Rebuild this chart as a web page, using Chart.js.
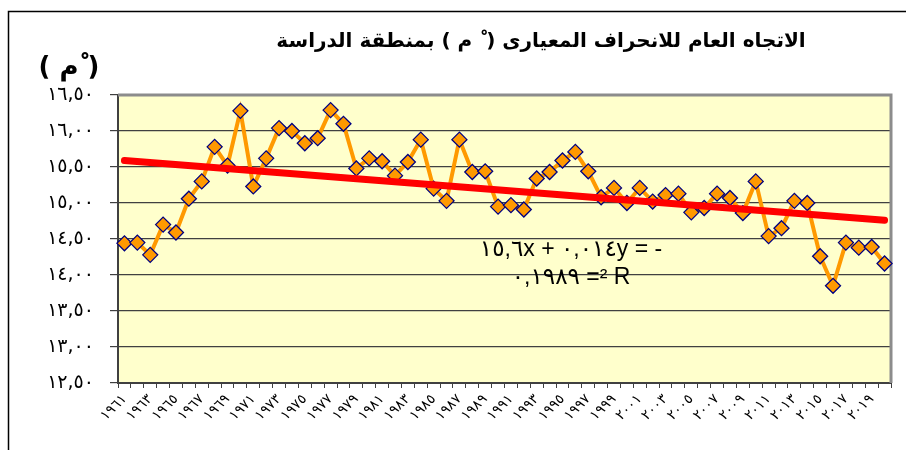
<!DOCTYPE html>
<html>
<head>
<meta charset="utf-8">
<script src="https://cdn.jsdelivr.net/npm/chart.js@4"></script>
<style>
html,body{margin:0;padding:0;background:#fff;}
#wrap{width:906px;height:450px;position:relative;}
</style>
</head>
<body>
<div id="wrap"><canvas id="c" width="906" height="450"></canvas></div>
<script>
// ---- data ----
const years = ['١٩٦١','١٩٦٢','١٩٦٣','١٩٦٤','١٩٦٥','١٩٦٦','١٩٦٧','١٩٦٨','١٩٦٩','١٩٧٠',
  '١٩٧١','١٩٧٢','١٩٧٣','١٩٧٤','١٩٧٥','١٩٧٦','١٩٧٧','١٩٧٨','١٩٧٩','١٩٨٠',
  '١٩٨١','١٩٨٢','١٩٨٣','١٩٨٤','١٩٨٥','١٩٨٦','١٩٨٧','١٩٨٨','١٩٨٩','١٩٩٠',
  '١٩٩١','١٩٩٢','١٩٩٣','١٩٩٤','١٩٩٥','١٩٩٦','١٩٩٧','١٩٩٨','١٩٩٩','٢٠٠٠',
  '٢٠٠١','٢٠٠٢','٢٠٠٣','٢٠٠٤','٢٠٠٥','٢٠٠٦','٢٠٠٧','٢٠٠٨','٢٠٠٩','٢٠١٠',
  '٢٠١١','٢٠١٢','٢٠١٣','٢٠١٤','٢٠١٥','٢٠١٦','٢٠١٧','٢٠١٨','٢٠١٩','٢٠٢٠'];
const stdDev = [14.44,14.45,14.28,14.70,14.59,15.06,15.30,15.78,15.52,16.28,
  15.23,15.62,16.04,16.00,15.83,15.90,16.29,16.10,15.48,15.62,
  15.58,15.38,15.57,15.88,15.20,15.03,15.88,15.43,15.44,14.95,
  14.97,14.91,15.34,15.43,15.59,15.71,15.44,15.08,15.21,15.00,
  15.21,15.02,15.11,15.13,14.87,14.93,15.13,15.07,14.86,15.30,
  14.54,14.65,15.03,15.00,14.26,13.85,14.45,14.38,14.39,14.16];
const trendStart = 15.59;
const trendEnd = 14.76;
const yTickValues = [12.5,13,13.5,14,14.5,15,15.5,16,16.5];
const yTickLabels = ['١٢,٥٠','١٣,٠٠','١٣,٥٠','١٤,٠٠','١٤,٥٠','١٥,٠٠','١٥,٥٠','١٦,٠٠','١٦,٥٠'];
const titleText = 'الاتجاه العام للانحراف المعيارى ( ْ م ) بمنطقة الدراسة';
const yTitleText = '( ْم )';
const eqLine1 = '١٥,٦x + ٠,٠١٤y = -';
const eqLine2 = '٠,١٩٨٩ =² R';

const decor = {
  id: 'decor',
  beforeDraw(chart) {
    const ctx = chart.ctx, a = chart.chartArea;
    ctx.save();
    ctx.fillStyle = '#ffffff';
    ctx.fillRect(0, 0, chart.width, chart.height);
    ctx.strokeStyle = '#000';
    ctx.lineWidth = 1.5;
    ctx.beginPath();
    ctx.moveTo(8.5, chart.height);
    ctx.lineTo(8.5, 11.5);
    ctx.lineTo(chart.width, 11.5);
    ctx.stroke();
    ctx.fillStyle = '#FFFFCC';
    ctx.fillRect(a.left, a.top, a.right - a.left, a.bottom - a.top);
    ctx.restore();
  },
  beforeDatasetsDraw(chart) {
    const ctx = chart.ctx, a = chart.chartArea;
    ctx.save();
    ctx.strokeStyle = '#8c8c8c';
    ctx.lineWidth = 3;
    ctx.beginPath();
    ctx.moveTo(a.left, a.top);
    ctx.lineTo(a.right, a.top);
    ctx.lineTo(a.right, a.bottom);
    ctx.stroke();
    ctx.restore();
  },
  afterDraw(chart) {
    const ctx = chart.ctx;
    ctx.save();
    ctx.fillStyle = '#000';
    ctx.textBaseline = 'middle';
    ctx.font = 'bold 20px "DejaVu Sans"';
    ctx.direction = 'rtl';
    ctx.textAlign = 'center';
    ctx.fillText(titleText, 541, 42);
    ctx.font = 'bold 26px "DejaVu Sans"';
    ctx.fillText(yTitleText, 69, 68);
    ctx.direction = 'ltr';
    ctx.font = '23px "Liberation Sans", "DejaVu Sans"';
    ctx.textAlign = 'center';
    ctx.fillText(eqLine1, 571, 250);
    ctx.fillText(eqLine2, 571, 278);
    ctx.restore();
  }
};

new Chart(document.getElementById('c'), {
  type: 'line',
  data: {
    labels: years,
    datasets: [
      {
        label: 'trend',
        data: [{x: years[0], y: trendStart}, {x: years[years.length - 1], y: trendEnd}],
        borderColor: '#FF0000',
        borderWidth: 7,
        borderCapStyle: 'round',
        pointRadius: 0,
        fill: false
      },
      {
        label: 'std',
        data: stdDev,
        borderColor: '#FF9900',
        borderWidth: 4,
        pointStyle: 'rectRot',
        pointRadius: 7.5,
        pointBackgroundColor: '#FF9900',
        pointBorderColor: '#000080',
        pointBorderWidth: 1.3,
        tension: 0,
        fill: false
      }
    ]
  },
  options: {
    responsive: false,
    animation: false,
    layout: {padding: {left: 0, top: 95, right: 15, bottom: 0}},
    plugins: {legend: {display: false}, title: {display: false}, tooltip: {enabled: false}},
    scales: {
      x: {
        type: 'category',
        offset: true,
        afterFit(s) { s.height = 67; },
        grid: {offset: true, drawOnChartArea: false, drawTicks: true, tickLength: 5, color: '#404040', lineWidth: 1},
        border: {display: true, color: '#404040', width: 2},
        ticks: {
          autoSkip: false,
          maxRotation: 45,
          minRotation: 45,
          padding: 3,
          color: '#000',
          font: {family: 'DejaVu Sans', size: 14},
          callback(v, i) { return i % 2 === 0 ? years[i] : ''; }
        }
      },
      y: {
        min: 12.5,
        max: 16.5,
        afterFit(s) { s.width = 118; },
        afterBuildTicks(s) { s.ticks = yTickValues.map(v => ({value: v})); },
        grid: {color: '#404040', lineWidth: 1.2, tickLength: 8, drawTicks: true},
        border: {display: true, color: '#404040', width: 2},
        ticks: {
          padding: 16,
          color: '#000',
          font: {family: 'DejaVu Sans', size: 19},
          callback(v, i) { return yTickLabels[yTickValues.indexOf(v)]; }
        }
      }
    }
  },
  plugins: [decor]
});
</script>
</body>
</html>
